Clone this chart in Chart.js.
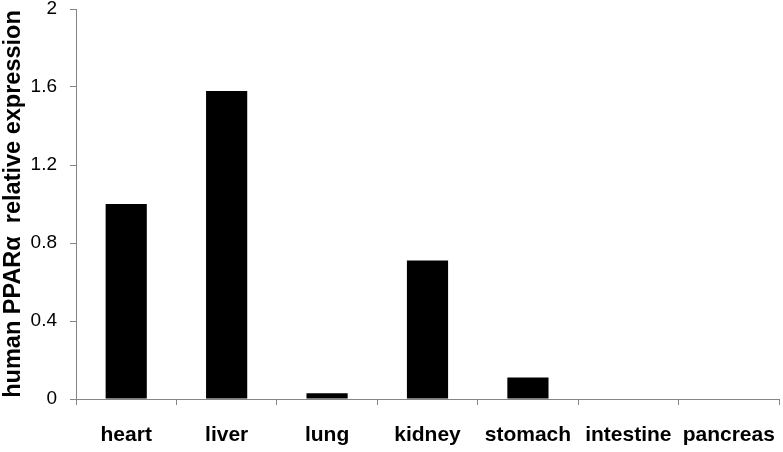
<!DOCTYPE html>
<html>
<head>
<meta charset="utf-8">
<script src="https://cdn.jsdelivr.net/npm/chart.js@4"></script>
<style>
  html, body { margin: 0; padding: 0; background: #fff; }
  #wrap { width: 783px; height: 452px; }
</style>
</head>
<body>
<div id="wrap"><canvas id="chart" width="783" height="452"></canvas></div>
<script>
(function(){
  const tissues = ['heart', 'liver', 'lung', 'kidney', 'stomach', 'intestine', 'pancreas'];
  const expression = [1.0, 1.58, 0.03, 0.71, 0.11, 0.002, 0.002];
  const yTicks = [0, 0.4, 0.8, 1.2, 1.6, 2];
  const yTitle = 'human PPAR\u03b1  relative expression';

  const axisGrey = '#868686';
  const font = '"Liberation Sans", Arial, sans-serif';

  const ctx = document.getElementById('chart').getContext('2d');
  new Chart(ctx, {
    type: 'bar',
    data: {
      labels: tissues,
      datasets: [{
        data: expression,
        backgroundColor: '#000',
        borderWidth: 0,
        categoryPercentage: 1,
        barPercentage: 0.41
      }]
    },
    options: {
      responsive: false,
      animation: false,
      layout: { padding: { top: 9, right: 4, left: 0, bottom: 0 } },
      plugins: { legend: { display: false }, tooltip: { enabled: false } },
      scales: {
        x: {
          grid: { display: true, drawOnChartArea: false, drawTicks: true, tickLength: 6, color: axisGrey, offset: true },
          border: { display: true, color: axisGrey, width: 1 },
          ticks: { color: '#000', padding: 18, autoSkip: false, font: { family: font, size: 21, weight: 'bold' }, maxRotation: 0 },
          afterFit: s => { s.height = 53; s.paddingLeft = 0; s.paddingRight = 0; }
        },
        y: {
          min: 0, max: 2,
          afterBuildTicks: s => { s.ticks = yTicks.map(v => ({ value: v })); },
          grid: { display: true, drawOnChartArea: false, drawTicks: true, tickLength: 6, color: axisGrey },
          border: { display: true, color: axisGrey, width: 1 },
          ticks: { color: '#000', padding: 13, font: { family: font, size: 19 }, callback: v => String(+v.toFixed(1)) },
          title: { display: true, text: yTitle, color: '#000', padding: { top: 2, bottom: 0 }, font: { family: font, size: 23.5, weight: 'bold', lineHeight: 1 } },
          afterFit: s => { s.width = 76; s.paddingTop = 0; s.paddingBottom = 0; }
        }
      }
    }
  });
})();
</script>
</body>
</html>
